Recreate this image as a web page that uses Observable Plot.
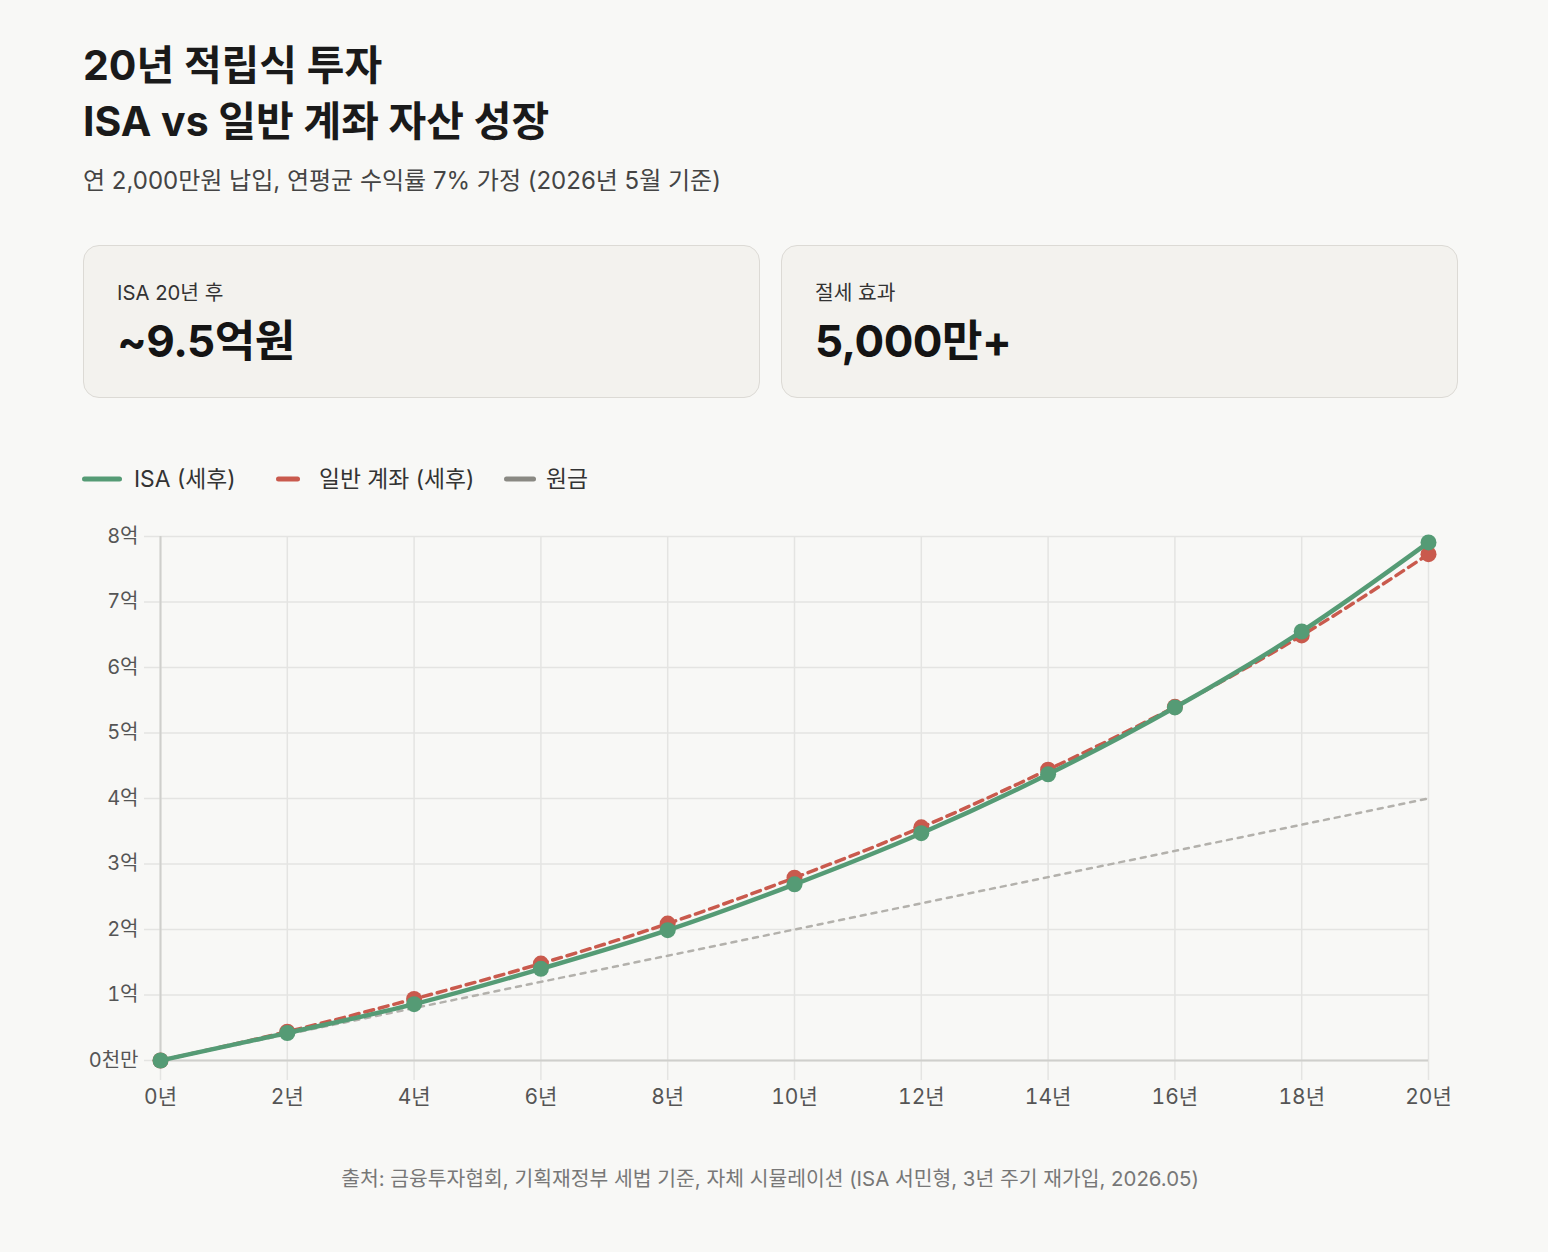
<!DOCTYPE html>
<html lang="ko">
<head>
<meta charset="utf-8">
<script src="https://cdn.jsdelivr.net/npm/d3@7"></script>
<script src="https://cdn.jsdelivr.net/npm/@observablehq/plot@0.6"></script>
<style>
  html,body{margin:0;padding:0;}
  body{background:#f8f8f6;font-family:Inter,"Noto Sans CJK KR",sans-serif;color:#1a1a1a;width:1548px;}
  .wrap{padding-left:83px;}
  h1{margin:0;padding-top:37px;font-size:41px;line-height:56px;font-weight:700;color:#1a1a1a;}
  .sub{margin-top:17px;font-size:24px;line-height:30px;color:#444;}
  .cards{display:flex;gap:21px;margin-top:49px;width:1375px;}
  .card{flex:1;height:153px;box-sizing:border-box;border:1px solid #dcdad5;border-radius:16px;background:#f3f2ee;padding:33px 33px 0 33px;}
  .card .lab{font-size:20.3px;line-height:28px;color:#333;}
  .card .val{font-size:44px;line-height:54px;font-weight:700;color:#141414;margin-top:7px;letter-spacing:-0.5px;}
  .legend{margin-top:66px;position:relative;height:30px;font-size:22.8px;line-height:30px;color:#333;}
  .legend .it{position:absolute;top:0;display:flex;align-items:center;height:30px;}
  #chart{margin-top:16px;}
  .cap{margin-top:45px;text-align:center;padding-right:8px;font-size:20.4px;line-height:28px;color:#777;}
</style>
</head>
<body>
<div class="wrap">
  <h1>20년 적립식 투자<br>ISA vs 일반 계좌 자산 성장</h1>
  <div class="sub">연 2,000만원 납입, 연평균 수익률 7% 가정 (2026년 5월 기준)</div>
  <div class="cards">
    <div class="card"><div class="lab">ISA 20년 후</div><div class="val">~9.5억원</div></div>
    <div class="card"><div class="lab">절세 효과</div><div class="val">5,000만+</div></div>
  </div>
  <div class="legend" id="legend"></div>
</div>
<div id="chart"></div>
<div class="cap">출처: 금융투자협회, 기획재정부 세법 기준, 자체 시뮬레이션 (ISA 서민형, 3년 주기 재가입, 2026.05)</div>
<script>
// 데이터 (단위: 억원)
const years = [0, 2, 4, 6, 8, 10, 12, 14, 16, 18, 20];
const isa = [0, 0.42, 0.86, 1.40, 1.99, 2.69, 3.47, 4.37, 5.39, 6.55, 7.91];
const general = [0, 0.44, 0.94, 1.48, 2.09, 2.79, 3.56, 4.44, 5.40, 6.49, 7.73];
const principal = [0, 0.4, 0.8, 1.2, 1.6, 2.0, 2.4, 2.8, 3.2, 3.6, 4.0];
const seriesNames = ["ISA (세후)", "일반 계좌 (세후)", "원금"];
const seriesColors = ["#559b75", "#c95a4d", "#8a8983"];
const yTicks = [0, 1, 2, 3, 4, 5, 6, 7, 8];
const xTicks = [0, 2, 4, 6, 8, 10, 12, 14, 16, 18, 20];

const data = years.map((y, i) => ({year: y, isa: isa[i], general: general[i], principal: principal[i]}));

// legend (HTML, above the SVG)
const legend = document.getElementById("legend");
const legendLayout = [
  {left: -1, w: 40, gap: 12},
  {left: 193, w: 24, gap: 19},
  {left: 421, w: 32, gap: 10}
];
seriesNames.forEach((name, i) => {
  const it = document.createElement("div");
  it.className = "it";
  const L = legendLayout[i];
  it.style.left = L.left + "px";
  it.innerHTML = `<svg width="${L.w}" height="10" style="margin-right:${L.gap}px"><line x1="2.5" x2="${L.w - 2.5}" y1="5" y2="5" stroke="${seriesColors[i]}" stroke-width="5" stroke-linecap="round"/></svg><span>${name}</span>`;
  legend.appendChild(it);
});

const font = 'Inter, "Noto Sans CJK KR", sans-serif';
const chart = Plot.plot({
  width: 1548,
  height: 610,
  marginLeft: 160,
  marginRight: 120,
  marginTop: 26,
  marginBottom: 60,
  style: {background: "transparent", fontFamily: font, fontSize: "20px", overflow: "visible"},
  x: {domain: [0, 20]},
  y: {domain: [0, 8]},
  marks: [
    Plot.gridY(yTicks, {stroke: "#e4e4e2", strokeOpacity: 1, strokeWidth: 1.5}),
    Plot.gridX(xTicks, {stroke: "#e4e4e2", strokeOpacity: 1, strokeWidth: 1.5}),
    Plot.axisY(yTicks, {tickSize: 16, tickPadding: 6, stroke: "#e4e4e2", strokeOpacity: 1, strokeWidth: 1.5, fill: "#555", fontSize: 20,
      tickFormat: d => d === 0 ? "0천만" : d + "억", label: null}),
    Plot.axisX(xTicks, {tickSize: 20, tickPadding: 9, stroke: "#e4e4e2", strokeOpacity: 1, strokeWidth: 1.5, fill: "#555", fontSize: 21,
      tickFormat: d => d + "년", label: null}),
    Plot.ruleX([0], {stroke: "#cfcfcc", strokeWidth: 2}),
    Plot.ruleY([0], {stroke: "#cfcfcc", strokeWidth: 2}),
    Plot.line(data, {x: "year", y: "principal", stroke: "#b3b1ac", strokeWidth: 2.5, strokeDasharray: "5,6"}),
    Plot.line(data, {x: "year", y: "general", stroke: seriesColors[1], strokeWidth: 3.5, strokeDasharray: "9,6", curve: "monotone-x"}),
    Plot.dot(data, {x: "year", y: "general", r: 8, fill: seriesColors[1]}),
    Plot.line(data, {x: "year", y: "isa", stroke: seriesColors[0], strokeWidth: 4.5, curve: "monotone-x"}),
    Plot.dot(data, {x: "year", y: "isa", r: 8, fill: seriesColors[0]})
  ]
});
document.getElementById("chart").appendChild(chart);
</script>
</body>
</html>
